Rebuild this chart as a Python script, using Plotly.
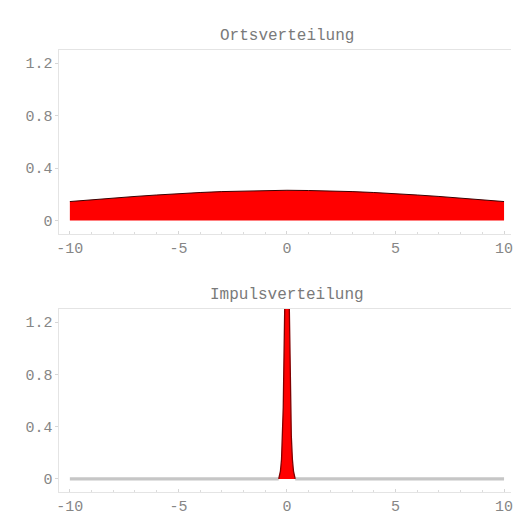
import numpy as np
import plotly.graph_objects as go

# --- data ---
ort_x = [-10, -9, -8, -7, -6, -5, -4, -3, -2, -1, 0, 1, 2, 3, 4, 5, 6, 7, 8, 9, 10]
ort_y = [0.145, 0.159, 0.172, 0.184, 0.195, 0.206, 0.214, 0.221, 0.226, 0.229, 0.231,
         0.229, 0.226, 0.221, 0.214, 0.206, 0.195, 0.184, 0.172, 0.159, 0.145]

impuls_x = [-10, -5, -1, -0.38, -0.3, -0.25, -0.2, -0.17, -0.14, -0.1, -0.05, 0,
            0.05, 0.1, 0.14, 0.17, 0.2, 0.25, 0.3, 0.38, 1, 5, 10]
impuls_y = [0, 0, 0, 0, 0.06, 0.15, 0.33, 0.55, 0.9, 1.4, 2.1, 2.45,
            2.1, 1.4, 0.9, 0.55, 0.33, 0.15, 0.06, 0, 0, 0, 0]

titles = ["Ortsverteilung", "Impulsverteilung"]
x_tick_vals = [-10, -5, 0, 5, 10]
x_tick_text = ["-10", "-5", "0", "5", "10"]
y_tick_vals = [0, 0.4, 0.8, 1.2]
y_tick_text = ["0", "0.4", "0.8", "1.2"]

W, H = 513, 522
FONT = "Liberation Mono, Courier New, monospace"
LABEL = "#868686"
FRAME = "#e4e4e4"

def px_x(p):
    return p / W

def px_y(p):
    return 1 - p / H

fig = go.Figure()

# top panel
fig.add_trace(go.Scatter(x=ort_x, y=ort_y, mode="lines", fill="tozeroy",
                         fillcolor="#ff0000", line=dict(color="#3a0000", width=1),
                         xaxis="x", yaxis="y", hoverinfo="skip", showlegend=False))

# bottom panel: gray baseline where the distribution is ~0
ix = np.array(impuls_x, dtype=float)
iy = np.array(impuls_y, dtype=float)
left = ix <= -0.38
right = ix >= 0.38
for m in (left, right):
    fig.add_trace(go.Scatter(x=ix[m], y=iy[m], mode="lines",
                             line=dict(color="#c6c6c6", width=3.3),
                             xaxis="x2", yaxis="y2", hoverinfo="skip", showlegend=False))
pk = (ix >= -0.38) & (ix <= 0.38)
fig.add_trace(go.Scatter(x=ix[pk], y=iy[pk], mode="lines", fill="tozeroy",
                         fillcolor="#ff0000", line=dict(color="#800000", width=1.3),
                         xaxis="x2", yaxis="y2", hoverinfo="skip", showlegend=False))

x_dom = [px_x(57), 1.0]
y_dom_top = [px_y(233.7), px_y(50)]
y_dom_bot = [px_y(492), px_y(309)]

def xax(anchor):
    return dict(domain=x_dom, anchor=anchor, range=[-10.48, 10.32],
                tickmode="array", tickvals=x_tick_vals, ticktext=x_tick_text,
                ticks="inside", ticklen=3, tickcolor="#d6d6d6",
                minor=dict(dtick=1, ticks="inside", ticklen=2, tickcolor="#dcdcdc"),
                showline=True, linecolor=FRAME, linewidth=1, mirror=True,
                showgrid=False, zeroline=False, ticklabeloverflow="allow",
                tickfont=dict(family=FONT, size=15, color=LABEL))

def yax(anchor, dom):
    return dict(domain=dom, anchor=anchor, range=[-0.1, 1.3],
                tickmode="array", tickvals=y_tick_vals, ticktext=y_tick_text,
                ticks="outside", ticklen=3, tickcolor="#d6d6d6",
                showline=True, linecolor=FRAME, linewidth=1,
                showgrid=False, zeroline=False,
                tickfont=dict(family=FONT, size=15, color=LABEL))

fig.update_layout(
    width=W, height=H,
    margin=dict(l=0, r=0, t=0, b=0),
    paper_bgcolor="white", plot_bgcolor="white",
    xaxis=xax("y"), yaxis=yax("x", y_dom_top),
    xaxis2=xax("y2"), yaxis2=yax("x2", y_dom_bot),
    annotations=[
        dict(text=titles[0], xref="x", x=0, yref="paper", y=px_y(35.7),
             yanchor="middle", showarrow=False,
             font=dict(family=FONT, size=16, color="#7a7a7a")),
        dict(text=titles[1], xref="x2", x=0, yref="paper", y=px_y(295),
             yanchor="middle", showarrow=False,
             font=dict(family=FONT, size=16, color="#7a7a7a")),
    ],
)

fig.write_html(
    "out.html",
    config={"displayModeBar": False},
    post_script="document.body.style.margin='0';document.body.style.overflow='hidden';",
)
